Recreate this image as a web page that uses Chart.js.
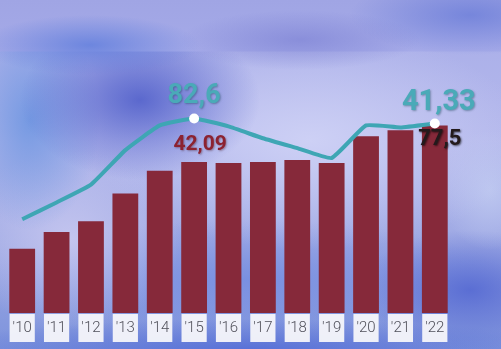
<!DOCTYPE html>
<html>
<head>
<meta charset="utf-8">
<script src="https://cdn.jsdelivr.net/npm/chart.js@4"></script>
<style>
html,body{margin:0;padding:0;width:501px;height:349px;overflow:hidden;}
body{
  background:
    radial-gradient(ellipse 110px 30px at 90px 45px, rgba(95,125,220,0.8), rgba(95,125,220,0) 100%),
    radial-gradient(ellipse 120px 30px at 300px 40px, rgba(120,125,210,0.6), rgba(120,125,210,0) 100%),
    radial-gradient(ellipse 120px 40px at 470px 15px, rgba(100,120,215,0.7), rgba(100,120,215,0) 100%),
    linear-gradient(180deg, rgba(160,165,228,1) 0px, rgba(165,170,232,1) 51px, rgba(165,170,232,0) 52px),
    radial-gradient(ellipse 120px 80px at 140px 100px, rgba(75,90,200,0.85), rgba(75,90,200,0) 100%),
    radial-gradient(ellipse 70px 110px at 30px 120px, rgba(110,150,225,0.9), rgba(110,150,225,0) 100%),
    radial-gradient(ellipse 110px 90px at 70px 240px, rgba(200,200,240,0.9), rgba(200,200,240,0) 100%),
    radial-gradient(ellipse 220px 110px at 310px 140px, rgba(205,208,245,1), rgba(205,208,245,0) 100%),
    radial-gradient(ellipse 50px 60px at 490px 190px, rgba(190,200,240,0.9), rgba(190,200,240,0) 100%),
    radial-gradient(ellipse 110px 60px at 470px 290px, rgba(85,105,210,0.9), rgba(85,105,210,0) 100%),
    radial-gradient(ellipse 320px 30px at 250px 349px, rgba(85,110,215,0.9), rgba(85,110,215,0) 100%),
    radial-gradient(ellipse 260px 60px at 250px 280px, rgba(115,140,225,0.8), rgba(115,140,225,0) 100%),
    linear-gradient(180deg, #a8ade8 0%, #b4b8ec 40%, #9ea9e4 70%, #7d93dc 100%);
}
#wrap{position:absolute;left:0;top:0;width:501px;height:349px;}
</style>
</head>
<body>
<div id="wrap"><canvas id="c" width="501" height="349"></canvas></div>
<script>
// Data (arbitrary units)
const years = ["'10","'11","'12","'13","'14","'15","'16","'17","'18","'19","'20","'21","'22"];
const barValues = [65, 82, 93, 121, 144, 153, 152, 153, 155, 152, 179, 185, 190];
const lineValues = [95, 112, 130, 165, 190, 197, 189, 177, 167, 157, 190, 188, 192];
const noteIndex = [5, 12];
const lineNotes = ['82,6', '41,33'];
const barNotes = ['42,09', '77,5'];

const pointRadii = years.map((_, i) => noteIndex.includes(i) ? 5 : 0);

const notesPlugin = {
  id: 'notes',
  afterDatasetsDraw(chart) {
    const ctx = chart.ctx;
    const lineMeta = chart.getDatasetMeta(1);
    ctx.save();
    ctx.textAlign = 'center';
    ctx.textBaseline = 'middle';
    noteIndex.forEach((idx, k) => {
      const p = lineMeta.data[idx];
      const big = k === 1;
      ctx.font = 'bold ' + (big ? 29 : 27) + 'px Roboto';
      ctx.shadowColor = 'rgba(30,70,90,0.45)';
      ctx.shadowBlur = 2;
      ctx.shadowOffsetX = 1;
      ctx.shadowOffsetY = 1;
      ctx.fillStyle = '#4aaab8';
      ctx.fillText(lineNotes[k], p.x + (big ? 4 : 0), p.y - (big ? 21 : 22));
      ctx.font = 'bold ' + (big ? 22 : 21) + 'px Roboto';
      if (big) {
        ctx.shadowColor = 'rgba(0,0,0,0.6)';
        ctx.fillStyle = '#231a1c';
        ctx.fillText(barNotes[k], p.x + 5, p.y + 16);
      } else {
        ctx.shadowColor = 'rgba(60,0,10,0.35)';
        ctx.fillStyle = '#8c2231';
        ctx.fillText(barNotes[k], p.x + 6, p.y + 26);
      }
    });
    ctx.restore();
  }
};

new Chart(document.getElementById('c'), {
  type: 'bar',
  data: {
    labels: years,
    datasets: [
      {
        type: 'bar',
        data: barValues,
        backgroundColor: '#86293a',
        barPercentage: 0.75,
        categoryPercentage: 1.0,
        order: 2
      },
      {
        type: 'line',
        data: lineValues,
        borderColor: '#3ea6b4',
        borderWidth: 4,
        tension: 0.12,
        pointRadius: pointRadii,
        pointBackgroundColor: '#ffffff',
        pointBorderColor: '#ffffff',
        pointBorderWidth: 0,
        order: 1,
        clip: false
      }
    ]
  },
  options: {
    responsive: false,
    animation: false,
    devicePixelRatio: 1,
    layout: { padding: { left: 0, right: 49, top: 0, bottom: 6 } },
    plugins: { legend: { display: false }, tooltip: { enabled: false } },
    scales: {
      x: {
        grid: { display: false, drawTicks: false },
        border: { display: false },
        ticks: {
          color: '#50505a',
          font: { family: 'Roboto', size: 15, weight: '300' },
          padding: 6,
          showLabelBackdrop: true,
          backdropColor: 'rgba(246,246,250,0.95)',
          backdropPadding: { top: 5, bottom: 5, left: 3, right: 3 },
          autoSkip: false,
          maxRotation: 0
        }
      },
      y: {
        display: false,
        min: 0,
        max: 312
      }
    }
  },
  plugins: [notesPlugin]
});
</script>
</body>
</html>
